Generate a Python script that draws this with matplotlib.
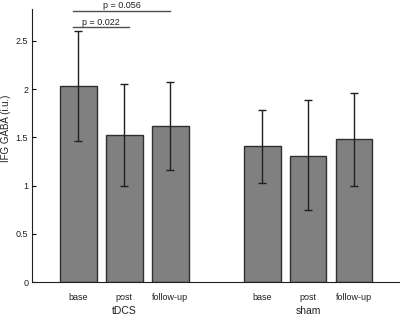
import numpy as np
import matplotlib
matplotlib.use("Agg")
import matplotlib.pyplot as plt

plt.rcParams['font.family'] = ['Liberation Sans', 'DejaVu Sans']

# data
conditions = ['base', 'post', 'follow-up']
groups = ['tDCS', 'sham']
means = [2.03, 1.52, 1.615, 1.41, 1.31, 1.48]
err_low = [1.46, 1.00, 1.16, 1.03, 0.75, 1.00]
err_high = [2.60, 2.05, 2.07, 1.78, 1.885, 1.96]
xpos = [1, 2, 3, 5, 6, 7]
sig_labels = ['p = 0.022', 'p = 0.056']
sig_x = [(0.88, 2.1), (0.88, 3.0)]
sig_y = [2.64, 2.815]

means = np.asarray(means)
yerr = np.vstack([means - np.asarray(err_low), np.asarray(err_high) - means])

fig = plt.figure(figsize=(4.0, 3.22), dpi=100)
ax = fig.add_axes([0.081, 0.124, 0.919, 0.849])

ax.bar(xpos, means, width=0.8, color='#808080', edgecolor='#303030', linewidth=1.0, zorder=2)
ax.errorbar(xpos, means, yerr=yerr, fmt='none', ecolor='#202020', elinewidth=1.0,
            capsize=3, capthick=1.0, zorder=3)

# significance bars
for (xa, xb), txt, yy in zip(sig_x, sig_labels, sig_y):
    ax.plot([xa, xb], [yy, yy], color='#505050', lw=1.0, clip_on=False, zorder=4)
    ax.text((xa + xb) / 2, yy + 0.008, txt, ha='center', va='bottom', fontsize=6.5,
            color='#202020', clip_on=False)

ax.set_xlim(0, 8)
ax.set_ylim(0, 2.835)
ax.set_yticks([0, 0.5, 1, 1.5, 2, 2.5])
ax.set_yticklabels(['0', '0.5', '1', '1.5', '2', '2.5'], fontsize=6.5, color='#202020')
ax.set_xticks(xpos)
ax.set_xticklabels(conditions * 2, fontsize=6.5, color='#202020')
ax.tick_params(axis='y', direction='in', length=3, width=0.8, pad=3)
ax.tick_params(axis='x', length=0, pad=8)

for sp in ['top', 'right']:
    ax.spines[sp].set_visible(False)
for sp in ['left', 'bottom']:
    ax.spines[sp].set_linewidth(0.8)
    ax.spines[sp].set_color('#202020')

fig.text(6 / 400, 1 - 128 / 322, 'IFG GABA (i.u.)', rotation=90, ha='center', va='center',
         fontsize=7, color='#202020')

# group labels under the conditions
for gi, g in enumerate(groups):
    xc = np.mean(xpos[gi * 3:gi * 3 + 3])
    ax.text(xc, -0.105, g, transform=ax.get_xaxis_transform(), ha='center', va='center',
            fontsize=7.5, color='#202020')

fig.savefig('out.png', dpi=100)
